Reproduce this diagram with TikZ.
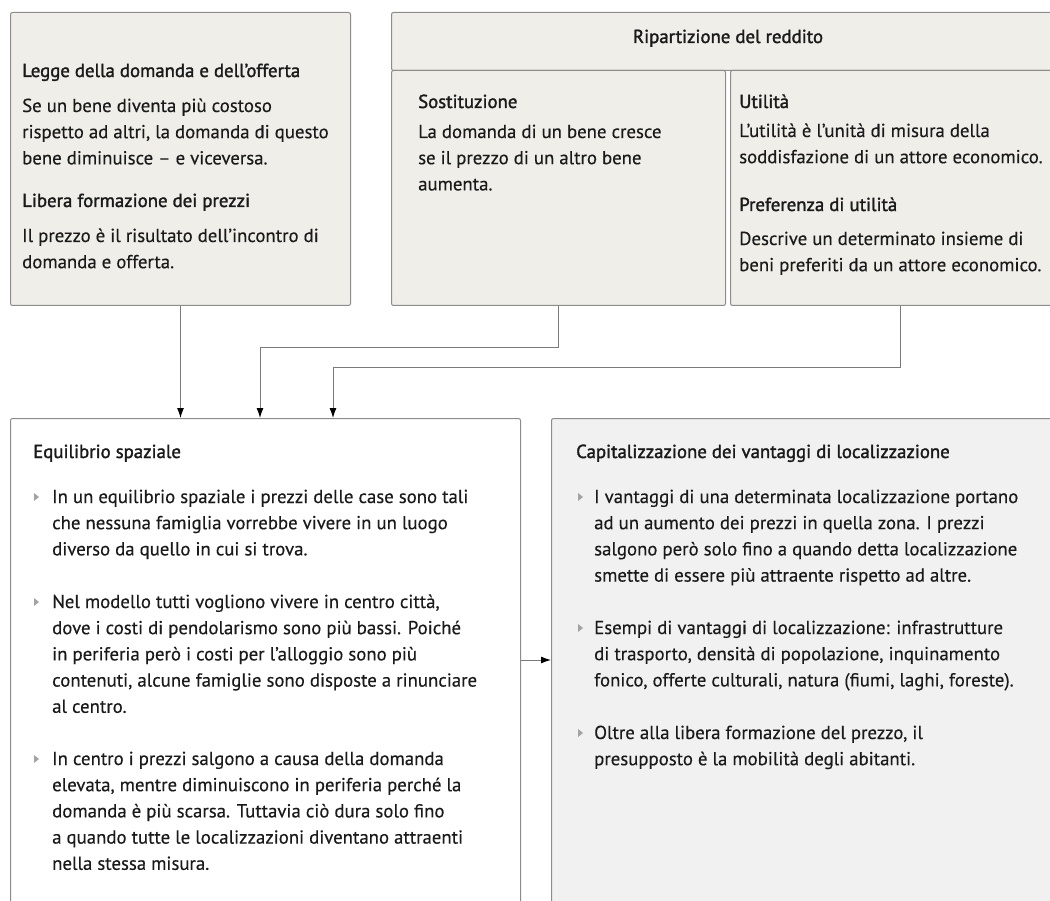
\documentclass[tikz,border=0pt]{standalone}
\usepackage{fontspec}
\setmainfont{PT Sans}[FakeBold=0.3]
\newfontfamily\titlefont[FakeBold=1.6]{PT Sans}
\usetikzlibrary{arrows.meta,calc}
\definecolor{beige}{HTML}{EFEEE9}
\definecolor{greyfill}{HTML}{F1F1F1}
\definecolor{bordercol}{HTML}{8C8C8C}
\definecolor{linecol}{HTML}{7A7A7A}
\definecolor{txtcol}{HTML}{1A1A1A}
\definecolor{bulcol}{HTML}{A3A3A3}
\newcommand\Lf[1]{\hbox{#1}}
\newcommand\paragr[1]{\vtop{\baselineskip=26.2pt\lineskiplimit=-20pt\lineskip=0pt #1}}
\tikzset{
  box/.style={draw=bordercol, line width=1pt, rounded corners=2pt, anchor=north west, inner sep=0pt},
  txt/.style={anchor=base west, inner sep=0pt, text=txtcol, font=\fontsize{18.8}{26}\selectfont},
  ttl/.style={txt, font=\fontsize{18.8}{26}\selectfont\titlefont},
  conn/.style={draw=linecol, line width=1pt, -{Latex[length=10pt,width=7pt,color=black]}},
  bullet/.pic={\fill[bulcol] (0,-10) -- (5,-6) -- (0,-2) -- cycle;}
}
\begin{document}
\begin{tikzpicture}[x=1pt,y=-1pt]
\useasboundingbox (0,0) rectangle (1050,901);
\clip (0,0) rectangle (1050,901);
% top boxes
\node[box, fill=beige, minimum width=340pt, minimum height=293pt] (legge) at (10,12) {};
\node[box, fill=beige, minimum width=679pt, minimum height=58pt] (rip) at (391,12) {};
\node[box, fill=beige, minimum width=334pt, minimum height=235pt] (sost) at (391,70) {};
\node[box, fill=beige, minimum width=340pt, minimum height=235pt] (util) at (730,70) {};
% bottom boxes
\node[box, fill=white, minimum width=510pt, minimum height=520pt] (equi) at (10,418) {};
\node[box, fill=greyfill, minimum width=530pt, minimum height=520pt] (cap) at (551,418) {};
% top-left texts
\node[ttl] (t1) at (22,77) {Legge della domanda e dell’offerta};
\node[txt] (t2) at (22,112) {\paragr{\Lf{Se un bene diventa più costoso}\Lf{rispetto ad altri, la domanda di questo}\Lf{bene diminuisce – e viceversa.}}};
\node[ttl] (t3) at (22,207) {Libera formazione dei prezzi};
\node[txt] (t4) at (22,242) {\paragr{\Lf{Il prezzo è il risultato dell’incontro di}\Lf{domanda e offerta.}}};
% header
\node[ttl, anchor=base] (h) at ($(rip.north)+(-3,31)$) {Ripartizione del reddito};
% sostituzione
\node[ttl] (s1) at (418,108) {Sostituzione};
\node[txt] (s2) at (418,138) {\paragr{\Lf{La domanda di un bene cresce}\Lf{se il prezzo di un altro bene}\Lf{aumenta.}}};
% utilita
\node[ttl] (u1) at (739,108) {Utilità};
\node[txt] (u2) at (739,137) {\paragr{\Lf{L’utilità è l’unità di misura della}\Lf{soddisfazione di un attore economico.}}};
\node[ttl] (u3) at (739,211) {Preferenza di utilità};
\node[txt] (u4) at (739,245) {\paragr{\Lf{Descrive un determinato insieme di}\Lf{beni preferiti da un attore economico.}}};
% equilibrio
\node[ttl] (e0) at (33,458) {Equilibrio spaziale};
\pic at (34,503) {bullet};
\node[txt] (e1) at (52,503) {\paragr{\Lf{In un equilibrio spaziale i prezzi delle case sono tali}\Lf{che nessuna famiglia vorrebbe vivere in un luogo}\Lf{diverso da quello in cui si trova.}}};
\pic at (34,608) {bullet};
\node[txt] (e2) at (52,608) {\paragr{\Lf{Nel modello tutti vogliono vivere in centro città,}\Lf{dove i costi di pendolarismo sono più bassi. Poiché}\Lf{in periferia però i costi per l’alloggio sono più}\Lf{contenuti, alcune famiglie sono disposte a rinunciare}\Lf{al centro.}}};
\pic at (34,765) {bullet};
\node[txt] (e3) at (52,765) {\paragr{\Lf{In centro i prezzi salgono a causa della domanda}\Lf{elevata, mentre diminuiscono in periferia perché la}\Lf{domanda è più scarsa. Tuttavia ciò dura solo fino}\Lf{a quando tutte le localizzazioni diventano attraenti}\Lf{nella stessa misura.}}};
% capitalizzazione
\node[ttl] (c0) at (576,458) {Capitalizzazione dei vantaggi di localizzazione};
\pic at (578,503) {bullet};
\node[txt] (c1) at (594,503) {\paragr{\Lf{I vantaggi di una determinata localizzazione portano}\Lf{ad un aumento dei prezzi in quella zona. I prezzi}\Lf{salgono però solo fino a quando detta localizzazione}\Lf{smette di essere più attraente rispetto ad altre.}}};
\pic at (578,634) {bullet};
\node[txt] (c2) at (594,634) {\paragr{\Lf{Esempi di vantaggi di localizzazione: infrastrutture}\Lf{di trasporto, densità di popolazione, inquinamento}\Lf{fonico, offerte culturali, natura (fiumi, laghi, foreste).}}};
\pic at (578,739) {bullet};
\node[txt] (c3) at (594,739) {\paragr{\Lf{Oltre alla libera formazione del prezzo, il}\Lf{presupposto è la mobilità degli abitanti.}}};
% connectors
\coordinate (in1) at ($(equi.north west)+(170,0)$);
\coordinate (in2) at ($(equi.north west)+(250,0)$);
\coordinate (in3) at ($(equi.north west)+(323,0)$);
\draw[conn] (legge.south) -- (legge.south |- in1);
\draw[conn] (sost.south) -- ++(0,42) -| (in2);
\draw[conn] (util.south) -- ++(0,62) -| (in3);
\coordinate (hy) at (0,660);
\draw[conn] (equi.east |- hy) -- (cap.west |- hy);
\end{tikzpicture}
\end{document}
